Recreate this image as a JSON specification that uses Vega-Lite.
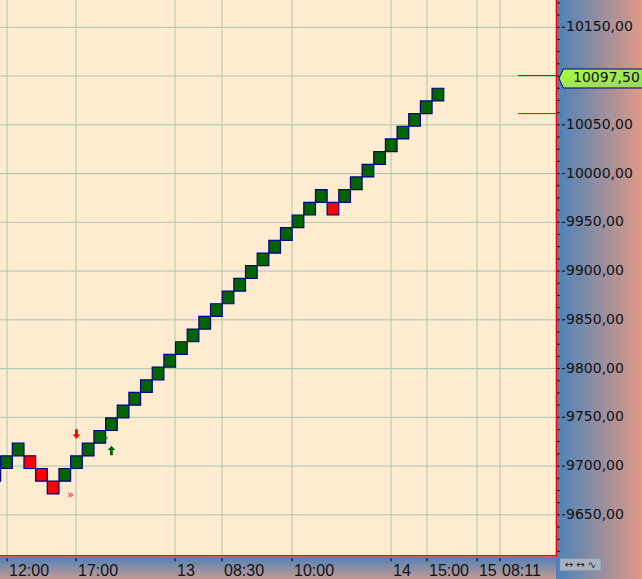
{
  "$schema": "https://vega.github.io/schema/vega-lite/v6.json",
  "width": 556,
  "height": 555,
  "autosize": {"type": "none"},
  "padding": {"left": 0, "top": 0, "right": 86, "bottom": 24},
  "background": "#FEEBD0",
  "config": {"view": {"stroke": null, "fill": "#FEEBD0"}},
  "datasets": {
    "hgrid": [
      {"price": 9650, "label": "9650,00"}, {"price": 9700, "label": "9700,00"}, {"price": 9750, "label": "9750,00"},
      {"price": 9800, "label": "9800,00"}, {"price": 9850, "label": "9850,00"}, {"price": 9900, "label": "9900,00"},
      {"price": 9950, "label": "9950,00"}, {"price": 10000, "label": "10000,00"}, {"price": 10050, "label": "10050,00"},
      {"price": 10100, "label": ""}, {"price": 10150, "label": "10150,00"}
    ],
    "yticks": [
      {"v": 9612.5}, {"v": 9625}, {"v": 9637.5}, {"v": 9650}, {"v": 9662.5}, {"v": 9675}, {"v": 9687.5}, {"v": 9700},
      {"v": 9712.5}, {"v": 9725}, {"v": 9737.5}, {"v": 9750}, {"v": 9762.5}, {"v": 9775}, {"v": 9787.5}, {"v": 9800},
      {"v": 9812.5}, {"v": 9825}, {"v": 9837.5}, {"v": 9850}, {"v": 9862.5}, {"v": 9875}, {"v": 9887.5}, {"v": 9900},
      {"v": 9912.5}, {"v": 9925}, {"v": 9937.5}, {"v": 9950}, {"v": 9962.5}, {"v": 9975}, {"v": 9987.5}, {"v": 10000},
      {"v": 10012.5}, {"v": 10025}, {"v": 10037.5}, {"v": 10050}, {"v": 10062.5}, {"v": 10075}, {"v": 10087.5}, {"v": 10100},
      {"v": 10112.5}, {"v": 10125}, {"v": 10137.5}, {"v": 10150}, {"v": 10162.5}, {"v": 10175}
    ],
    "vgrid": [
      {"k": 1.044, "label": "12:00"}, {"k": 6.961, "label": "17:00"}, {"k": 15.452, "label": "13"},
      {"k": 19.483, "label": "08:30"}, {"k": 25.486, "label": "10:00"}, {"k": 33.977, "label": "14"},
      {"k": 37.064, "label": "15:00"}, {"k": 41.352, "label": "15"}, {"k": 43.325, "label": "08:11"}
    ],
    "boxes": [
      {"k": 0, "lo": 9684.5, "hi": 9697.5, "dir": "up"},
      {"k": 1, "lo": 9697.5, "hi": 9710.5, "dir": "up"},
      {"k": 2, "lo": 9710.5, "hi": 9723.5, "dir": "up"},
      {"k": 3, "lo": 9697.5, "hi": 9710.5, "dir": "down"},
      {"k": 4, "lo": 9684.5, "hi": 9697.5, "dir": "down"},
      {"k": 5, "lo": 9671.5, "hi": 9684.5, "dir": "down"},
      {"k": 6, "lo": 9684.5, "hi": 9697.5, "dir": "up"},
      {"k": 7, "lo": 9697.5, "hi": 9710.5, "dir": "up"},
      {"k": 8, "lo": 9710.5, "hi": 9723.5, "dir": "up"},
      {"k": 9, "lo": 9723.5, "hi": 9736.5, "dir": "up"},
      {"k": 10, "lo": 9736.5, "hi": 9749.5, "dir": "up"},
      {"k": 11, "lo": 9749.5, "hi": 9762.5, "dir": "up"},
      {"k": 12, "lo": 9762.5, "hi": 9775.5, "dir": "up"},
      {"k": 13, "lo": 9775.5, "hi": 9788.5, "dir": "up"},
      {"k": 14, "lo": 9788.5, "hi": 9801.5, "dir": "up"},
      {"k": 15, "lo": 9801.5, "hi": 9814.5, "dir": "up"},
      {"k": 16, "lo": 9814.5, "hi": 9827.5, "dir": "up"},
      {"k": 17, "lo": 9827.5, "hi": 9840.5, "dir": "up"},
      {"k": 18, "lo": 9840.5, "hi": 9853.5, "dir": "up"},
      {"k": 19, "lo": 9853.5, "hi": 9866.5, "dir": "up"},
      {"k": 20, "lo": 9866.5, "hi": 9879.5, "dir": "up"},
      {"k": 21, "lo": 9879.5, "hi": 9892.5, "dir": "up"},
      {"k": 22, "lo": 9892.5, "hi": 9905.5, "dir": "up"},
      {"k": 23, "lo": 9905.5, "hi": 9918.5, "dir": "up"},
      {"k": 24, "lo": 9918.5, "hi": 9931.5, "dir": "up"},
      {"k": 25, "lo": 9931.5, "hi": 9944.5, "dir": "up"},
      {"k": 26, "lo": 9944.5, "hi": 9957.5, "dir": "up"},
      {"k": 27, "lo": 9957.5, "hi": 9970.5, "dir": "up"},
      {"k": 28, "lo": 9970.5, "hi": 9983.5, "dir": "up"},
      {"k": 29, "lo": 9957.5, "hi": 9970.5, "dir": "down"},
      {"k": 30, "lo": 9970.5, "hi": 9983.5, "dir": "up"},
      {"k": 31, "lo": 9983.5, "hi": 9996.5, "dir": "up"},
      {"k": 32, "lo": 9996.5, "hi": 10009.5, "dir": "up"},
      {"k": 33, "lo": 10009.5, "hi": 10022.5, "dir": "up"},
      {"k": 34, "lo": 10022.5, "hi": 10035.5, "dir": "up"},
      {"k": 35, "lo": 10035.5, "hi": 10048.5, "dir": "up"},
      {"k": 36, "lo": 10048.5, "hi": 10061.5, "dir": "up"},
      {"k": 37, "lo": 10061.5, "hi": 10074.5, "dir": "up"},
      {"k": 38, "lo": 10074.5, "hi": 10087.5, "dir": "up"}
    ],
    "signals": [
      {"k": 7, "price": 9732.9, "dir": "down"},
      {"k": 10, "price": 9715.9, "dir": "up"}
    ],
    "chevrons": [
      {"k": 6.5, "price": 9670.3, "dir": "down"},
      {"k": 9.45, "price": 9728.8, "dir": "up"}
    ],
    "levels": [
      {"price": 10100.5, "dir": "up"},
      {"price": 10061.5, "dir": "down"}
    ],
    "last": [
      {"price": 10097.5, "label": "10097,50"}
    ]
  },
  "layer": [
    {
      "data": {"name": "hgrid"},
      "mark": {"type": "rule", "color": "#A9C6AE", "strokeWidth": 1},
      "encoding": {
        "y": {"field": "price", "type": "quantitative", "scale": {"domain": [9608.8, 10178], "nice": false, "zero": false}, "axis": null}
      }
    },
    {
      "data": {"name": "vgrid"},
      "mark": {"type": "rule", "color": "#A9C6AE", "strokeWidth": 1},
      "encoding": {
        "x": {"field": "k", "type": "quantitative", "scale": {"domain": [0.443, 48.13], "nice": false, "zero": false, "padding": 0}, "axis": null}
      }
    },
    {
      "data": {"name": "boxes"},
      "mark": {"type": "bar", "width": 11.66, "stroke": "#000080", "strokeWidth": 1.2, "opacity": 1},
      "encoding": {
        "x": {"field": "k", "type": "quantitative", "scale": {"domain": [0.443, 48.13], "nice": false, "zero": false, "padding": 0}, "axis": null},
        "y": {"field": "lo", "type": "quantitative", "scale": {"domain": [9608.8, 10178], "nice": false, "zero": false}, "axis": null},
        "y2": {"field": "hi"},
        "color": {"field": "dir", "type": "nominal", "scale": {"domain": ["up", "down"], "range": ["#006400", "#FF0000"]}, "legend": null}
      }
    },
    {
      "data": {"name": "signals"},
      "mark": {"type": "point", "filled": true, "size": 90, "opacity": 1, "strokeWidth": 0},
      "encoding": {
        "x": {"field": "k", "type": "quantitative", "scale": {"domain": [0.443, 48.13], "nice": false, "zero": false, "padding": 0}, "axis": null},
        "y": {"field": "price", "type": "quantitative", "scale": {"domain": [9608.8, 10178], "nice": false, "zero": false}, "axis": null},
        "shape": {"field": "dir", "type": "nominal", "scale": {"domain": ["down", "up"], "range": ["M-0.3,-1 L0.3,-1 L0.3,0.1 L0.8,0.1 L0,1 L-0.8,0.1 L-0.3,0.1 Z", "M-0.3,1 L0.3,1 L0.3,-0.1 L0.8,-0.1 L0,-1 L-0.8,-0.1 L-0.3,-0.1 Z"]}, "legend": null},
        "color": {"field": "dir", "type": "nominal", "scale": {"domain": ["up", "down"], "range": ["#006400", "#FF0000"]}, "legend": null}
      }
    },
    {
      "data": {"name": "chevrons"},
      "mark": {"type": "text", "text": "»", "font": "DejaVu Sans", "fontSize": 11, "align": "center", "baseline": "middle"},
      "encoding": {
        "x": {"field": "k", "type": "quantitative", "scale": {"domain": [0.443, 48.13], "nice": false, "zero": false, "padding": 0}, "axis": null},
        "y": {"field": "price", "type": "quantitative", "scale": {"domain": [9608.8, 10178], "nice": false, "zero": false}, "axis": null},
        "color": {"field": "dir", "type": "nominal", "scale": {"domain": ["up", "down"], "range": ["#006400", "#FF0000"]}, "legend": null}
      }
    },
    {
      "data": {"name": "levels"},
      "mark": {"type": "rule", "strokeWidth": 1},
      "encoding": {
        "x": {"datum": 44.87, "type": "quantitative", "scale": {"domain": [0.443, 48.13], "nice": false, "zero": false, "padding": 0}, "axis": null},
        "x2": {"datum": 48.13},
        "y": {"field": "price", "type": "quantitative", "scale": {"domain": [9608.8, 10178], "nice": false, "zero": false}, "axis": null},
        "color": {"field": "dir", "type": "nominal", "scale": {"domain": ["up", "down"], "range": ["#006400", "#FF0000"]}, "legend": null}
      }
    },
    {
      "data": {"name": "last"},
      "mark": {
        "type": "rect",
        "color": {"gradient": "linear", "x1": 0, "y1": 0, "x2": 1, "y2": 0, "stops": [{"offset": 0, "color": "#4A82BA"}, {"offset": 1, "color": "#EE9C80"}]}
      },
      "encoding": {
        "x": {"datum": 48.13, "type": "quantitative", "scale": {"domain": [0.443, 48.13], "nice": false, "zero": false, "padding": 0}, "axis": null},
        "x2": {"datum": 56.2},
        "y": {"datum": 10195, "type": "quantitative", "scale": {"domain": [9608.8, 10178], "nice": false, "zero": false}, "axis": null},
        "y2": {"datum": 9578}
      }
    },
    {
      "data": {"name": "last"},
      "mark": {
        "type": "rect",
        "color": {"gradient": "linear", "x1": 0, "y1": 0, "x2": 0, "y2": 1, "stops": [{"offset": 0, "color": "#4F82B6"}, {"offset": 1, "color": "#E2A08C"}]}
      },
      "encoding": {
        "x": {"datum": 0, "type": "quantitative", "scale": {"domain": [0.443, 48.13], "nice": false, "zero": false, "padding": 0}, "axis": null},
        "x2": {"datum": 48.13},
        "y": {"datum": 9607.2, "type": "quantitative", "scale": {"domain": [9608.8, 10178], "nice": false, "zero": false}, "axis": null},
        "y2": {"datum": 9578}
      }
    },
    {
      "data": {"name": "last"},
      "mark": {"type": "rect", "fill": "#A8B3C2", "stroke": "#7F8C9C", "strokeWidth": 0.5},
      "encoding": {
        "x": {"datum": 48.47, "type": "quantitative", "scale": {"domain": [0.443, 48.13], "nice": false, "zero": false, "padding": 0}, "axis": null},
        "x2": {"datum": 51.99},
        "y": {"datum": 9605.2, "type": "quantitative", "scale": {"domain": [9608.8, 10178], "nice": false, "zero": false}, "axis": null},
        "y2": {"datum": 9592.6}
      }
    },
    {
      "data": {"name": "last"},
      "mark": {"type": "text", "text": "↔ ↔ ∿", "font": "DejaVu Sans", "fontSize": 10, "align": "center", "baseline": "middle", "color": "#222222"},
      "encoding": {
        "x": {"datum": 50.23, "type": "quantitative", "scale": {"domain": [0.443, 48.13], "nice": false, "zero": false, "padding": 0}, "axis": null},
        "y": {"datum": 9598.9, "type": "quantitative", "scale": {"domain": [9608.8, 10178], "nice": false, "zero": false}, "axis": null}
      }
    },
    {
      "data": {"name": "yticks"},
      "mark": {"type": "rule", "color": "#000000", "strokeWidth": 1},
      "encoding": {
        "x": {"datum": 48.17, "type": "quantitative", "scale": {"domain": [0.443, 48.13], "nice": false, "zero": false, "padding": 0}, "axis": null},
        "x2": {"datum": 48.43},
        "y": {"field": "v", "type": "quantitative", "scale": {"domain": [9608.8, 10178], "nice": false, "zero": false}, "axis": null}
      }
    },
    {
      "data": {"name": "hgrid"},
      "mark": {"type": "rule", "color": "#000000", "strokeWidth": 1},
      "encoding": {
        "x": {"datum": 48.64, "type": "quantitative", "scale": {"domain": [0.443, 48.13], "nice": false, "zero": false, "padding": 0}, "axis": null},
        "x2": {"datum": 48.9},
        "y": {"field": "price", "type": "quantitative", "scale": {"domain": [9608.8, 10178], "nice": false, "zero": false}, "axis": null}
      }
    },
    {
      "data": {"name": "hgrid"},
      "mark": {"type": "text", "font": "DejaVu Sans", "fontSize": 14, "align": "left", "baseline": "middle", "color": "#111111"},
      "encoding": {
        "x": {"datum": 48.99, "type": "quantitative", "scale": {"domain": [0.443, 48.13], "nice": false, "zero": false, "padding": 0}, "axis": null},
        "y": {"field": "price", "type": "quantitative", "scale": {"domain": [9608.8, 10178], "nice": false, "zero": false}, "axis": null},
        "text": {"field": "label", "type": "nominal"}
      }
    },
    {
      "data": {"name": "vgrid"},
      "mark": {"type": "rule", "color": "#000000", "strokeWidth": 1},
      "encoding": {
        "x": {"field": "k", "type": "quantitative", "scale": {"domain": [0.443, 48.13], "nice": false, "zero": false, "padding": 0}, "axis": null},
        "y": {"datum": 9605.7, "type": "quantitative", "scale": {"domain": [9608.8, 10178], "nice": false, "zero": false}, "axis": null},
        "y2": {"datum": 9602.3}
      }
    },
    {
      "data": {"name": "vgrid"},
      "mark": {"type": "text", "font": "Liberation Sans", "fontSize": 16, "align": "left", "baseline": "alphabetic", "dx": 2, "color": "#111111"},
      "encoding": {
        "x": {"field": "k", "type": "quantitative", "scale": {"domain": [0.443, 48.13], "nice": false, "zero": false, "padding": 0}, "axis": null},
        "y": {"datum": 9587.2, "type": "quantitative", "scale": {"domain": [9608.8, 10178], "nice": false, "zero": false}, "axis": null},
        "text": {"field": "label", "type": "nominal"}
      }
    },
    {
      "data": {"name": "last"},
      "mark": {"type": "rule", "color": "#FF0000", "strokeWidth": 1.5},
      "encoding": {
        "x": {"datum": 48.17, "type": "quantitative", "scale": {"domain": [0.443, 48.13], "nice": false, "zero": false, "padding": 0}, "axis": null},
        "y": {"datum": 10178, "type": "quantitative", "scale": {"domain": [9608.8, 10178], "nice": false, "zero": false}, "axis": null},
        "y2": {"datum": 9607.6}
      }
    },
    {
      "data": {"name": "last"},
      "mark": {"type": "rule", "color": "#FF0000", "strokeWidth": 1.5},
      "encoding": {
        "x": {"datum": 0.3, "type": "quantitative", "scale": {"domain": [0.443, 48.13], "nice": false, "zero": false, "padding": 0}, "axis": null},
        "x2": {"datum": 48.2},
        "y": {"datum": 9608.1, "type": "quantitative", "scale": {"domain": [9608.8, 10178], "nice": false, "zero": false}, "axis": null}
      }
    },
    {
      "data": {"name": "last"},
      "mark": {
        "type": "point",
        "shape": "M-1,0 L-0.895,-0.221 L1,-0.221 L1,0.221 L-0.895,0.221 Z",
        "size": 7396,
        "filled": true,
        "opacity": 1,
        "fill": {"gradient": "linear", "x1": 0, "y1": 0, "x2": 1, "y2": 1, "stops": [{"offset": 0, "color": "#A8FF3A"}, {"offset": 1, "color": "#9CD268"}]},
        "stroke": "#000080",
        "strokeWidth": 1
      },
      "encoding": {
        "x": {"datum": 52.07, "type": "quantitative", "scale": {"domain": [0.443, 48.13], "nice": false, "zero": false, "padding": 0}, "axis": null},
        "y": {"field": "price", "type": "quantitative", "scale": {"domain": [9608.8, 10178], "nice": false, "zero": false}, "axis": null}
      }
    },
    {
      "data": {"name": "last"},
      "mark": {"type": "text", "font": "DejaVu Sans", "fontSize": 14, "align": "left", "baseline": "middle", "color": "#111111"},
      "encoding": {
        "x": {"datum": 49.59, "type": "quantitative", "scale": {"domain": [0.443, 48.13], "nice": false, "zero": false, "padding": 0}, "axis": null},
        "y": {"field": "price", "type": "quantitative", "scale": {"domain": [9608.8, 10178], "nice": false, "zero": false}, "axis": null},
        "text": {"field": "label", "type": "nominal"}
      }
    }
  ]
}
